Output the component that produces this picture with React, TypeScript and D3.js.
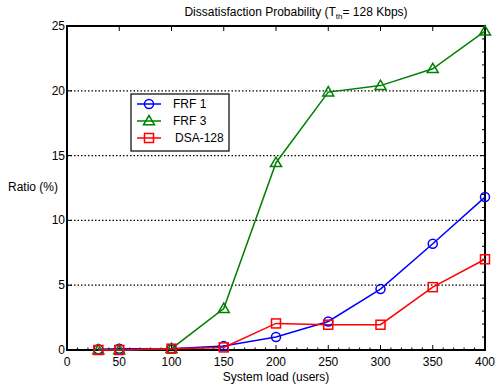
import React from "react";
import * as d3 from "d3";

const loads = [30, 50, 100, 150, 200, 250, 300, 350, 400];
const frf1 = [0.05, 0.1, 0.1, 0.3, 1.0, 2.2, 4.7, 8.2, 11.8];
const frf3 = [0.0, 0.0, 0.1, 3.2, 14.45, 19.9, 20.4, 21.7, 24.6];
const dsa = [0.0, 0.0, 0.1, 0.2, 2.05, 1.95, 1.95, 4.85, 7.0];
const xTicks = [0, 50, 100, 150, 200, 250, 300, 350, 400];
const yTicks = [0, 5, 10, 15, 20, 25];
const seriesNames = ["FRF 1", "FRF 3", "DSA-128"];
const seriesColors = ["#0000ff", "#008000", "#ff0000"];

const W = 499, H = 385;
const L = 67, R = 485, T = 26, B = 350;
const FONT = "Liberation Sans, Arial, sans-serif";

function Marker({ kind, x, y, color }: { kind: number; x: number; y: number; color: string }) {
  if (kind === 0) return <circle cx={x} cy={y} r={4.5} fill="none" stroke={color} strokeWidth={1.5} />;
  if (kind === 1) {
    const s = 5.5;
    return <polygon points={`${x},${y - s} ${x - s},${y + s * 0.7} ${x + s},${y + s * 0.7}`} fill="none" stroke={color} strokeWidth={1.5} />;
  }
  return <rect x={x - 4.5} y={y - 4.5} width={9} height={9} fill="none" stroke={color} strokeWidth={1.5} />;
}

export default function App() {
  const x = d3.scaleLinear().domain([0, 400]).range([L, R]);
  const y = d3.scaleLinear().domain([0, 25]).range([B, T]);
  const data = [frf1, frf3, dsa];
  const line = d3.line<number>().x((_, i) => x(loads[i])).y((d) => y(d));
  const xMinor = d3.range(0, 401, 10).filter((v) => v % 50 !== 0);
  const yMinor = d3.range(0, 25.01, 1).filter((v) => v % 5 !== 0);

  return (
    <svg width={W} height={H} style={{ position: "absolute", left: 0, top: 0, background: "#fff" }} fontFamily={FONT}>
      <rect x={0} y={0} width={W} height={H} fill="#fff" />
      {/* grid */}
      {yTicks.filter((v) => v > 0 && v < 25).map((v) => (
        <line key={"g" + v} x1={L} x2={R} y1={y(v)} y2={y(v)} stroke="#000" strokeWidth={1.2} strokeDasharray="1.5,2" />
      ))}
      {/* ticks */}
      {xTicks.map((v) => (
        <g key={"xt" + v}>
          <line x1={x(v)} x2={x(v)} y1={B} y2={B - 5} stroke="#000" strokeWidth={1} />
          <line x1={x(v)} x2={x(v)} y1={T} y2={T + 5} stroke="#000" strokeWidth={1} />
          <text x={x(v)} y={B + 16} textAnchor="middle" fontSize={12}>{v}</text>
        </g>
      ))}
      {xMinor.map((v) => (
        <line key={"xm" + v} x1={x(v)} x2={x(v)} y1={B} y2={B - 2.5} stroke="#000" strokeWidth={1} />
      ))}
      {yTicks.map((v) => (
        <g key={"yt" + v}>
          <line x1={L} x2={L + 5} y1={y(v)} y2={y(v)} stroke="#000" strokeWidth={1} />
          <line x1={R} x2={R - 5} y1={y(v)} y2={y(v)} stroke="#000" strokeWidth={1} />
          <text x={L - 2} y={y(v) + 4} textAnchor="end" fontSize={12}>{v}</text>
        </g>
      ))}
      {yMinor.map((v) => (
        <line key={"ym" + v} x1={R} x2={R - 3} y1={y(v)} y2={y(v)} stroke="#000" strokeWidth={1} />
      ))}
      {/* frame */}
      <rect x={L} y={T} width={R - L} height={B - T} fill="none" stroke="#000" strokeWidth={2} />
      {/* series */}
      {data.map((s, k) => (
        <g key={"s" + k}>
          <path d={line(s) || ""} fill="none" stroke={seriesColors[k]} strokeWidth={1.5} />
        </g>
      ))}
      {data.map((s, k) => (
        <g key={"m" + k}>
          {s.map((v, i) => (
            <Marker key={i} kind={k} x={x(loads[i])} y={y(v)} color={seriesColors[k]} />
          ))}
        </g>
      ))}
      {/* legend */}
      <rect x={131} y={94} width={98} height={57} fill="#fff" stroke="#000" strokeWidth={1.2} />
      {seriesNames.map((n, k) => {
        const ly = 104 + k * 17;
        return (
          <g key={"l" + k}>
            <line x1={137} x2={161} y1={ly} y2={ly} stroke={seriesColors[k]} strokeWidth={1.5} />
            <Marker kind={k} x={149} y={ly} color={seriesColors[k]} />
            <text x={k === 2 ? 175 : 173} y={ly + 4} fontSize={12}>{n}</text>
          </g>
        );
      })}
      {/* labels */}
      <text x={296} y={16} textAnchor="middle" fontSize={12}>
        Dissatisfaction Probability (T<tspan fontSize={8} dy={3}>th</tspan><tspan dy={-3}>= 128 Kbps)</tspan>
      </text>
      <text x={276} y={381} textAnchor="middle" fontSize={12}>System load (users)</text>
      <text x={33} y={191} textAnchor="middle" fontSize={12}>Ratio (%)</text>
    </svg>
  );
}
